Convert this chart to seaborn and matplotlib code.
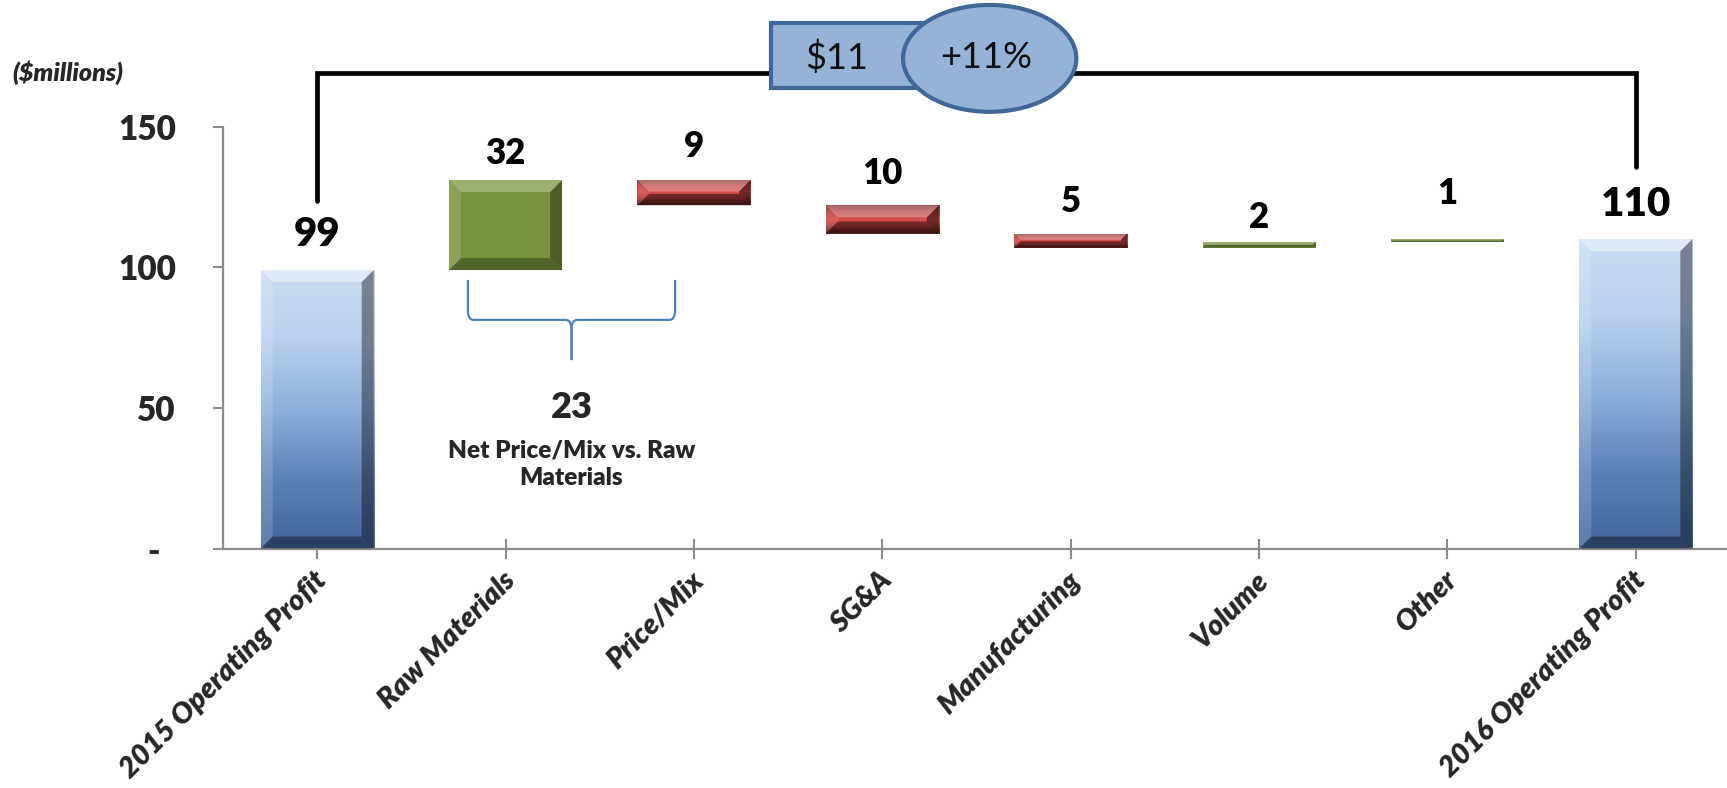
import numpy as np
import pandas as pd
import matplotlib
matplotlib.use("Agg")
import matplotlib.pyplot as plt
import seaborn as sns
from matplotlib.patches import Polygon, Rectangle, Ellipse, PathPatch
from matplotlib.path import Path
from matplotlib.colors import LinearSegmentedColormap, to_rgb
from matplotlib.transforms import ScaledTranslation

# ---- data -------------------------------------------------------------
categories = ["2015 Operating Profit", "Raw Materials", "Price/Mix", "SG&A",
              "Manufacturing", "Volume", "Other", "2016 Operating Profit"]
changes = [99, 32, -9, -10, -5, 2, 1, 110]
kinds = ["total", "up", "down", "down", "down", "up", "up", "total"]
y_ticks = [0, 50, 100, 150]
y_tick_labels = ["-  ", "50", "100", "150"]
net_value = 23
net_caption = "Net Price/Mix vs. Raw\nMaterials"
change_amount = "$11"
change_pct = "+11%"
unit_caption = "($millions)"

# ---- styling ----------------------------------------------------------
sns.set_theme(style="white")
plt.rcParams["font.family"] = ["Lato", "DejaVu Sans"]
HEAVY = "heavy"

fill = {"total": "#a9c4e6", "up": "#77933c", "down": "#b5403d"}
label_gap_px = [36, 27, 34, 32, 32, 24, 46, 35]   # label centre above bar top
label_size = [29, 25, 25, 25, 25, 25, 25, 29]

# running levels of the waterfall
lower, upper = [], []
level = 0
for v, k in zip(changes, kinds):
    if k == "total":
        lo, hi = 0, v
        level = v
    else:
        new = level + v
        lo, hi = min(level, new), max(level, new)
        level = new
    lower.append(lo)
    upper.append(hi)

df = pd.DataFrame({"category": categories, "upper": upper, "kind": kinds})

fig = plt.figure(figsize=(17.27, 7.88), dpi=100)
ax = fig.add_axes([223 / 1727, 1 - 548.5 / 788, 1507 / 1727, (548.5 - 126.7) / 788])

sns.barplot(data=df, x="category", y="upper", hue="category", order=categories,
            hue_order=categories, palette=[fill[k] for k in kinds],
            width=0.6, dodge=False, legend=False, saturation=1,
            linewidth=0, ax=ax)

ax.set_xlim(-0.5, 7.5)
ax.set_ylim(0, 150)
ax.set_autoscale_on(False)

# float each bar between its running levels
bars = {}
for p in ax.patches:
    idx = int(round(p.get_x() + p.get_width() / 2))
    p.set_y(lower[idx])
    p.set_height(upper[idx] - lower[idx])
    bars[idx] = p

blue_grad = LinearSegmentedColormap.from_list(
    "blue_grad", ["#41659b", "#5d82b6", "#8eb0da", "#b8d1ef", "#cadcf3"])

to_data = ax.transData.inverted()


def bevel(p, size_px, light, dark, side_light=0.35):
    x0, y0 = p.get_x(), p.get_y()
    x1, y1 = x0 + p.get_width(), y0 + p.get_height()
    (px0, py0), (px1, py1) = ax.transData.transform([(x0, y0), (x1, y1)])
    b = min(size_px, (py1 - py0) * 0.45, (px1 - px0) * 0.3)
    faces = {
        "top": [(px0, py1), (px1, py1), (px1 - b, py1 - b), (px0 + b, py1 - b)],
        "bottom": [(px0, py0), (px1, py0), (px1 - b, py0 + b), (px0 + b, py0 + b)],
        "left": [(px0, py0), (px0 + b, py0 + b), (px0 + b, py1 - b), (px0, py1)],
        "right": [(px1, py0), (px1 - b, py0 + b), (px1 - b, py1 - b), (px1, py1)],
    }
    shades = {"top": ("white", light), "left": ("white", light * side_light),
              "right": ("black", dark), "bottom": ("black", dark * 0.9)}
    for face, pts in faces.items():
        col, a = shades[face]
        ax.add_patch(Polygon(to_data.transform(pts), closed=True, facecolor=col,
                             alpha=a, edgecolor="none", zorder=3))


for i, p in bars.items():
    ext = (p.get_x(), p.get_x() + p.get_width(), p.get_y(), p.get_y() + p.get_height())
    if kinds[i] == "total":
        grad = np.linspace(0, 1, 256).reshape(-1, 1)
        im = ax.imshow(grad, cmap=blue_grad, origin="lower", aspect="auto",
                       extent=ext, zorder=2.5)
        im.set_clip_path(p)
        bevel(p, 12, 0.45, 0.4)
    elif kinds[i] == "down":
        # glossy band across the red face
        grad = np.array([0.0, 0.3, 0.6, 0.4, 0.15]).reshape(-1, 1)
        base = np.array(to_rgb(fill[kinds[i]]))
        sheen = LinearSegmentedColormap.from_list(
            "sheen", [base * 0.6, base, np.clip(base * 1.18, 0, 1)])
        im = ax.imshow(grad, cmap=sheen, origin="lower", aspect="auto",
                       extent=ext, interpolation="bilinear", zorder=2.5,
                       vmin=0, vmax=0.6)
        im.set_clip_path(p)
        bevel(p, 12, 0.3, 0.45)
    else:
        bevel(p, 12, 0.28, 0.35, side_light=0.5)

ax.set_xlim(-0.5, 7.5)
ax.set_ylim(0, 150)

# value labels above every bar
for i, p in bars.items():
    ax.annotate(f"{abs(changes[i])}", (p.get_x() + p.get_width() / 2, upper[i]),
                xytext=(0, label_gap_px[i] * 0.72), textcoords="offset points",
                ha="center", va="center", fontsize=label_size[i],
                fontweight=HEAVY, color="black", zorder=5)

# axes styling
for side in ("top", "right"):
    ax.spines[side].set_visible(False)
for side in ("left", "bottom"):
    ax.spines[side].set_color("#8c8c8c")
    ax.spines[side].set_linewidth(1.6)

ax.set_yticks(y_ticks)
ax.set_yticklabels(y_tick_labels, fontsize=24, fontweight=HEAVY)
ax.tick_params(axis="y", direction="out", length=7, width=1.5, color="#8c8c8c",
               pad=27, left=True)
ax.tick_params(axis="x", direction="inout", length=14, width=1.5, color="#8c8c8c",
               pad=13, bottom=True)
ax.set_xlabel("")
ax.set_ylabel("")
ax.set_xticks(range(len(categories)))
ax.set_xticklabels(categories, rotation=45, ha="right", va="center",
                   rotation_mode="anchor", fontsize=21, fontweight=HEAVY,
                   fontstyle="italic")
shift = ScaledTranslation(4 / 72, 0, fig.dpi_scale_trans)
for t in ax.get_xticklabels():
    t.set_transform(t.get_transform() + shift)

# unit caption
fig.text(12 / 1727, 1 - 73 / 788, unit_caption, fontsize=18, fontweight=HEAVY,
         fontstyle="italic", ha="left", va="center")

# bracket spanning the two totals
bx0, bx1 = 0, len(categories) - 1
top_y = 169
ax.plot([bx0, bx0, bx1, bx1], [upper[0] + 24.5, top_y, top_y, upper[-1] + 25.5],
        color="black", lw=3.4, solid_joinstyle="miter", clip_on=False, zorder=6)

# change badge: box + ellipse
ax.add_patch(Rectangle((2.41, 163.7), 0.83, 23.1, facecolor="#95b3d7",
                       edgecolor="#3f6797", lw=3, clip_on=False, zorder=7))
ax.add_patch(Ellipse((3.57, 174.3), 0.92, 38, facecolor="#95b3d7",
                     edgecolor="#3f6797", lw=3, clip_on=False, zorder=8))
ax.text(2.76, 174.5, change_amount, fontsize=26, ha="center", va="center",
        color="#111111", zorder=9, clip_on=False)
ax.text(3.55, 174.5, change_pct, fontsize=26, ha="center", va="center",
        color="#111111", zorder=9, clip_on=False)

# curly brace under raw materials and price/mix
xl = 1 - 0.2
xr = 2 - 0.1
xm = (xl + xr) / 2
y_top, y_bar, y_tip = 95.5, 81.3, 67
dx, dy = 0.03, 3.5
for xe, sgn in ((xl, 1), (xr, -1)):
    verts = [(xe, y_top), (xe, y_bar + dy), (xe, y_bar), (xe + sgn * dx, y_bar),
             (xm - sgn * dx, y_bar), (xm, y_bar), (xm, y_bar - dy), (xm, y_tip)]
    codes = [Path.MOVETO, Path.LINETO, Path.CURVE3, Path.CURVE3,
             Path.LINETO, Path.CURVE3, Path.CURVE3, Path.LINETO]
    ax.add_patch(PathPatch(Path(verts, codes), facecolor="none",
                           edgecolor="#4f81bd", lw=1.6, zorder=4))

ax.text(xm, 50, f"{net_value}", fontsize=26, fontweight=HEAVY, ha="center",
        va="center", zorder=5)
ax.text(xm, 30, net_caption, fontsize=17.5, fontweight=HEAVY, ha="center",
        va="center", linespacing=1.3, zorder=5)

fig.savefig("out.png", dpi=100)
